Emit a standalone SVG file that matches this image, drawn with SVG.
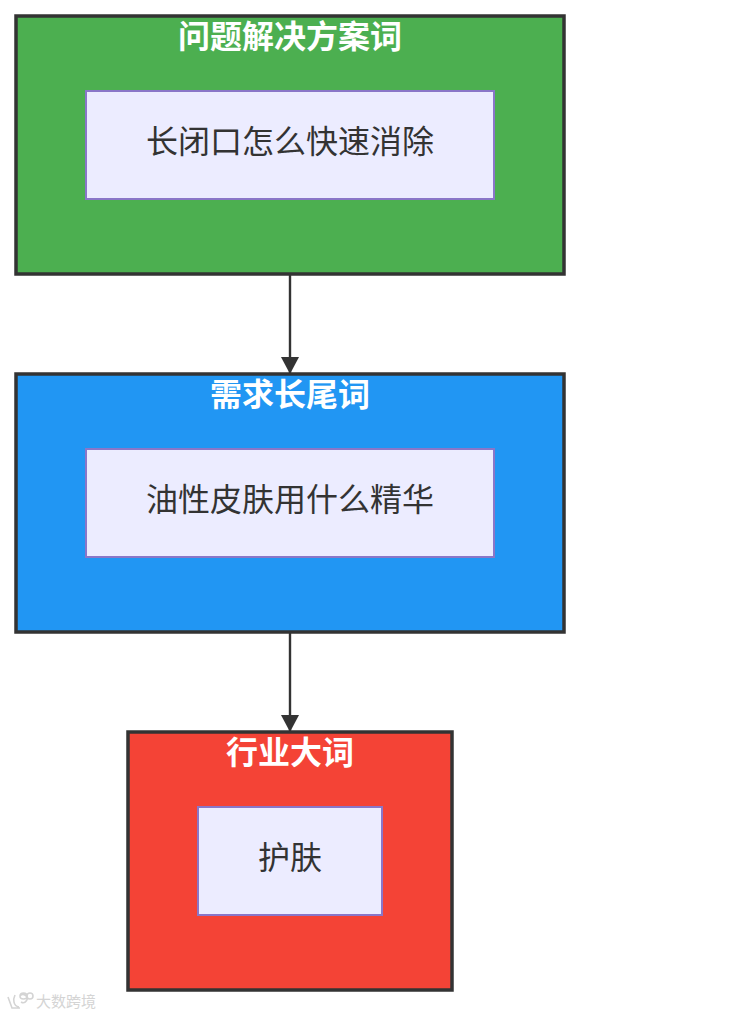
<svg xmlns="http://www.w3.org/2000/svg" width="729" height="1016" viewBox="0 0 729 1016">
<style>
.c{stroke:#333;stroke-width:3.5}
.n{fill:#ececff;stroke:#8a76c8;stroke-width:2}
.t{font-family:"Noto Sans CJK SC","Liberation Sans",sans-serif;text-anchor:middle}
.h{font-size:32px;font-weight:700;fill:#fff}
.l{font-size:32px;font-weight:400;fill:#333}
.e{fill:none;stroke:#333;stroke-width:2.4}
</style>
<defs><marker id="a" markerUnits="userSpaceOnUse" markerWidth="18" markerHeight="18" refX="17" refY="9" orient="auto"><path d="M0 0L17 9L0 18z" fill="#333"/></marker></defs>
<rect width="729" height="1016" fill="#fff"/>
<g id="connectors">
<path class="e" d="M290 274V374" marker-end="url(#a)"/>
<path class="e" d="M290 632V732" marker-end="url(#a)"/>
</g>
<g id="group1"><rect class="c" x="16" y="16" width="548" height="258" fill="#4caf50"/><text class="t h" x="290" y="48">问题解决方案词</text></g>
<g id="node1"><rect class="n" x="86" y="91" width="408" height="108"/><text class="t l" x="290" y="153">长闭口怎么快速消除</text></g>
<g id="group2"><rect class="c" x="16" y="374" width="548" height="258" fill="#2196f3"/><text class="t h" x="290" y="406">需求长尾词</text></g>
<g id="node2"><rect class="n" x="86" y="449" width="408" height="108"/><text class="t l" x="290" y="511">油性皮肤用什么精华</text></g>
<g id="group3"><rect class="c" x="128" y="732" width="324" height="258" fill="#f44336"/><text class="t h" x="290" y="764">行业大词</text></g>
<g id="node3"><rect class="n" x="198" y="807" width="184" height="108"/><text class="t l" x="290" y="869">护肤</text></g>
<g id="watermark"><text x="36" y="1007" font-family="'Noto Sans CJK SC',sans-serif" font-size="15" fill="#d4d4d4">大数跨境</text>
<path d="M8 997L12 1008H20M15 995C13 999 13 1006 19 1007M21 1002A4 4 0 1 0 20 996M20 996A3.500 3 0 1 1 27 996A3.500 3 0 1 1 20 996M27 996A3 3 0 1 1 33 996A3 3 0 1 1 27 996" fill="none" stroke="#d4d4d4" stroke-width="1.600"/></g>
</svg>
